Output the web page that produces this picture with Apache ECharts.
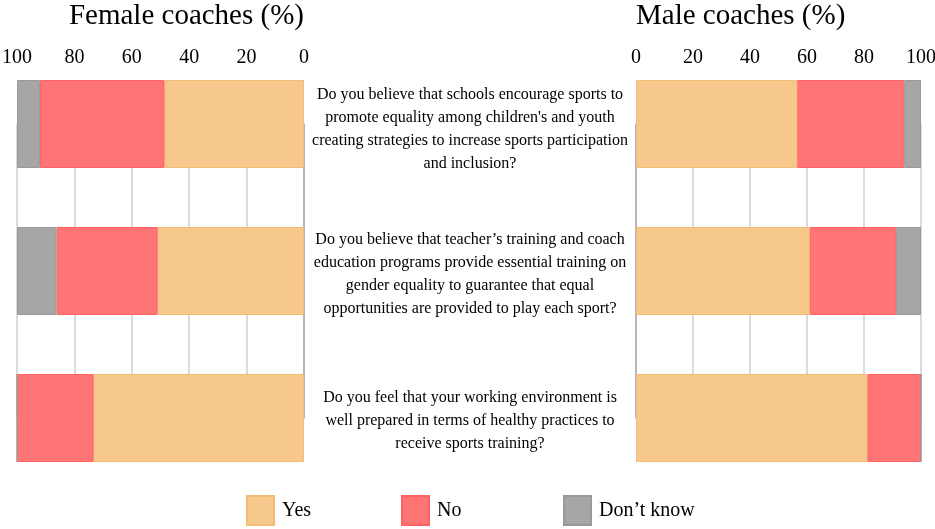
<!DOCTYPE html>
<html>
<head>
<meta charset="utf-8">
<script src="https://cdn.jsdelivr.net/npm/echarts@6/dist/echarts.min.js"></script>
<style>
  html, body { margin: 0; padding: 0; background: #fff; }
  #chart { width: 935px; height: 529px; }
</style>
</head>
<body>
<div id="chart"></div>
<script>
var questions = [
    'Do you believe that schools encourage sports to\npromote equality among children\'s and youth\ncreating strategies to increase sports participation\nand inclusion?',
    'Do you believe that teacher\u2019s training and coach\neducation programs provide essential training on\ngender equality to guarantee that equal\nopportunities are provided to play each sport?',
    'Do you feel that your working environment is\nwell prepared in terms of healthy practices to\nreceive sports training?'
];
var answers = ['Yes', 'No', 'Don\u2019t know'];

// female coaches (%)
var femaleYes = [48.6, 51.0, 73.3];
var femaleNo = [43.4, 35.2, 26.7];
var femaleDk = [8.0, 13.8, 0];

// male coaches (%)
var maleYes = [56.6, 61.0, 81.2];
var maleNo = [37.5, 30.2, 18.8];
var maleDk = [5.9, 8.8, 0];

var fills = ['#F6C88C', '#FF7575', '#A6A6A6'];
var borders = ['#F3BB74', '#FF6262', '#999999'];
var serif = '"Liberation Serif", "Times New Roman", serif';

var myChart = echarts.init(document.getElementById('chart'));

function makeSeries(name, idx, data, axisIdx, stack) {
    return {
        name: name,
        type: 'bar',
        stack: stack,
        xAxisIndex: axisIdx,
        yAxisIndex: axisIdx,
        barWidth: 88,
        clip: false,
        data: data,
        itemStyle: { color: fills[idx], borderColor: borders[idx], borderWidth: 1 },
        emphasis: { disabled: true }
    };
}

function legendAt(name, left) {
    return {
        data: [name],
        left: left,
        top: 495,
        padding: 0,
        icon: 'rect',
        itemWidth: 27,
        itemHeight: 29,
        selectedMode: false,
        textStyle: { fontFamily: serif, fontSize: 20, color: '#000', padding: [0, 0, 0, 3] }
    };
}

var option = {
    animation: false,
    title: [
        { text: 'Female coaches (%)', right: 631, top: 2, padding: 0,
          textStyle: { fontFamily: serif, fontSize: 29, fontWeight: 'normal', color: '#000' } },
        { text: 'Male coaches (%)', left: 636, top: 2, padding: 0,
          textStyle: { fontFamily: serif, fontSize: 29, fontWeight: 'normal', color: '#000' } }
    ],
    legend: [
        legendAt(answers[0], 246),
        legendAt(answers[1], 401),
        legendAt(answers[2], 563)
    ],
    grid: [
        { left: 17, right: 631, top: 124, bottom: 111, outerBoundsMode: 'none' },
        { left: 636, right: 14, top: 124, bottom: 111, outerBoundsMode: 'none' }
    ],
    xAxis: [
        {
            gridIndex: 0, type: 'value', position: 'top', inverse: true,
            min: 0, max: 100, interval: 20,
            axisLine: { show: false }, axisTick: { show: false },
            axisLabel: { margin: 56, fontFamily: serif, fontSize: 20, color: '#000' },
            splitLine: { lineStyle: { color: '#cfcfcf', width: 1.5 } }
        },
        {
            gridIndex: 1, type: 'value', position: 'top',
            min: 0, max: 100, interval: 20,
            axisLine: { show: false }, axisTick: { show: false },
            axisLabel: { margin: 56, fontFamily: serif, fontSize: 20, color: '#000' },
            splitLine: { lineStyle: { color: '#cfcfcf', width: 1.5 } }
        }
    ],
    yAxis: [
        {
            gridIndex: 0, type: 'category', position: 'right', inverse: true,
            boundaryGap: false, data: questions,
            axisLine: { show: true, lineStyle: { color: '#aaaaaa', width: 1.5 } },
            axisTick: { show: false },
            splitLine: { show: false },
            axisLabel: {
                margin: 166, align: 'center',
                fontFamily: serif, fontSize: 16, lineHeight: 23, color: '#000',
                // a thin empty first line nudges each block down a little
                formatter: function (value, index) {
                    return (index === 0 ? '{gapL| }' : '{gapS| }') + '\n' + value;
                },
                rich: {
                    gapS: { lineHeight: 6, fontSize: 4 },
                    gapL: { lineHeight: 11, fontSize: 4 }
                }
            }
        },
        {
            gridIndex: 1, type: 'category', position: 'left', inverse: true,
            boundaryGap: false, data: questions,
            axisLine: { show: true, lineStyle: { color: '#aaaaaa', width: 1.5 } },
            axisTick: { show: false },
            splitLine: { show: false },
            axisLabel: { show: false }
        }
    ],
    series: [
        makeSeries(answers[0], 0, femaleYes, 0, 'f'),
        makeSeries(answers[1], 1, femaleNo, 0, 'f'),
        makeSeries(answers[2], 2, femaleDk, 0, 'f'),
        makeSeries(answers[0], 0, maleYes, 1, 'm'),
        makeSeries(answers[1], 1, maleNo, 1, 'm'),
        makeSeries(answers[2], 2, maleDk, 1, 'm')
    ]
};

myChart.setOption(option);
</script>
</body>
</html>
